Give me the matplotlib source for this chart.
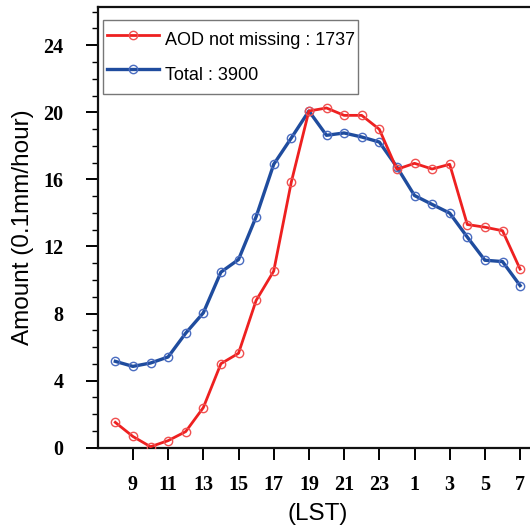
import matplotlib
matplotlib.use("Agg")
import matplotlib.pyplot as plt
from matplotlib.ticker import MultipleLocator, FixedLocator

# Hourly rain amount, 08 LST through 07 LST the next day
hours = [8, 9, 10, 11, 12, 13, 14, 15, 16, 17, 18, 19, 20, 21, 22, 23,
         0, 1, 2, 3, 4, 5, 6, 7]
aod_not_missing = [1.51, 0.67, 0.06, 0.42, 0.96, 2.39, 5.01, 5.63, 8.78, 10.53,
                   15.84, 20.08, 20.26, 19.82, 19.82, 18.99, 16.60, 16.96,
                   16.62, 16.90, 13.31, 13.15, 12.94, 10.65]
total = [5.15, 4.85, 5.05, 5.41, 6.83, 8.04, 10.47, 11.22, 13.77, 16.90,
         18.47, 20.08, 18.63, 18.77, 18.53, 18.23, 16.74, 15.04, 14.51,
         13.99, 12.56, 11.18, 11.10, 9.67]
label_aod = "AOD not missing : 1737"
label_total = "Total : 3900"
x_tick_labels = ["9", "11", "13", "15", "17", "19", "21", "23", "1", "3", "5", "7"]
y_ticks = [0, 4, 8, 12, 16, 20, 24]

W, H = 530, 530
fig = plt.figure(figsize=(W / 100, H / 100), dpi=100)
left, right, top, bottom = 97.7, 537.7, 6.7, 447.7
ax = fig.add_axes([left / W, 1 - bottom / H, (right - left) / W, (bottom - top) / H])

idx = list(range(len(hours)))
red = "#ee2020"
blue = "#1f4c9e"
ax.plot(idx, aod_not_missing, color=red, lw=2.0, marker="o", ms=6,
        mfc="none", mec="#f05050", mew=1.0, label=label_aod, zorder=3)
ax.plot(idx, total, color=blue, lw=2.4, marker="o", ms=6,
        mfc="none", mec="#4a6cc0", mew=1.0, label=label_total, zorder=2)

ax.set_xlim(-1, 24)
ax.set_ylim(0, 26.3)

ax.xaxis.set_major_locator(FixedLocator(idx[1::2]))
ax.set_xticklabels(x_tick_labels)
ax.yaxis.set_major_locator(FixedLocator(y_ticks))
ax.yaxis.set_minor_locator(MultipleLocator(1))

for s in ax.spines.values():
    s.set_linewidth(1.6)
    s.set_color("#111111")

ax.tick_params(axis="x", which="major", direction="out", length=8.5, width=1.4,
               pad=11, labelsize=14.5, top=False)
ax.tick_params(axis="y", which="major", direction="out", length=8.5, width=1.4,
               pad=16, labelsize=14.5, right=False)
ax.tick_params(axis="y", which="minor", direction="out", length=4, width=1.0,
               right=False)
for lab in ax.get_xticklabels() + ax.get_yticklabels():
    lab.set_fontfamily("Liberation Serif")
    lab.set_fontweight("bold")

ax.set_ylabel("Amount (0.1mm/hour)", family="Liberation Sans", fontsize=17.5,
              labelpad=7)
ax.set_xlabel("(LST)", family="Liberation Sans", fontsize=17.5, labelpad=6)

leg = ax.legend(loc="upper left",
                bbox_to_anchor=(5.6 / (right - left), 1 - 13.3 / (bottom - top)),
                prop=dict(family="Liberation Sans", size=13), frameon=True,
                fancybox=False, edgecolor="#777777", framealpha=1,
                handlelength=2.9, handleheight=2.4, handletextpad=0.3,
                borderpad=0.2, labelspacing=0.1, borderaxespad=0)
leg.get_frame().set_linewidth(1.0)

fig.savefig("out.png", dpi=100)
